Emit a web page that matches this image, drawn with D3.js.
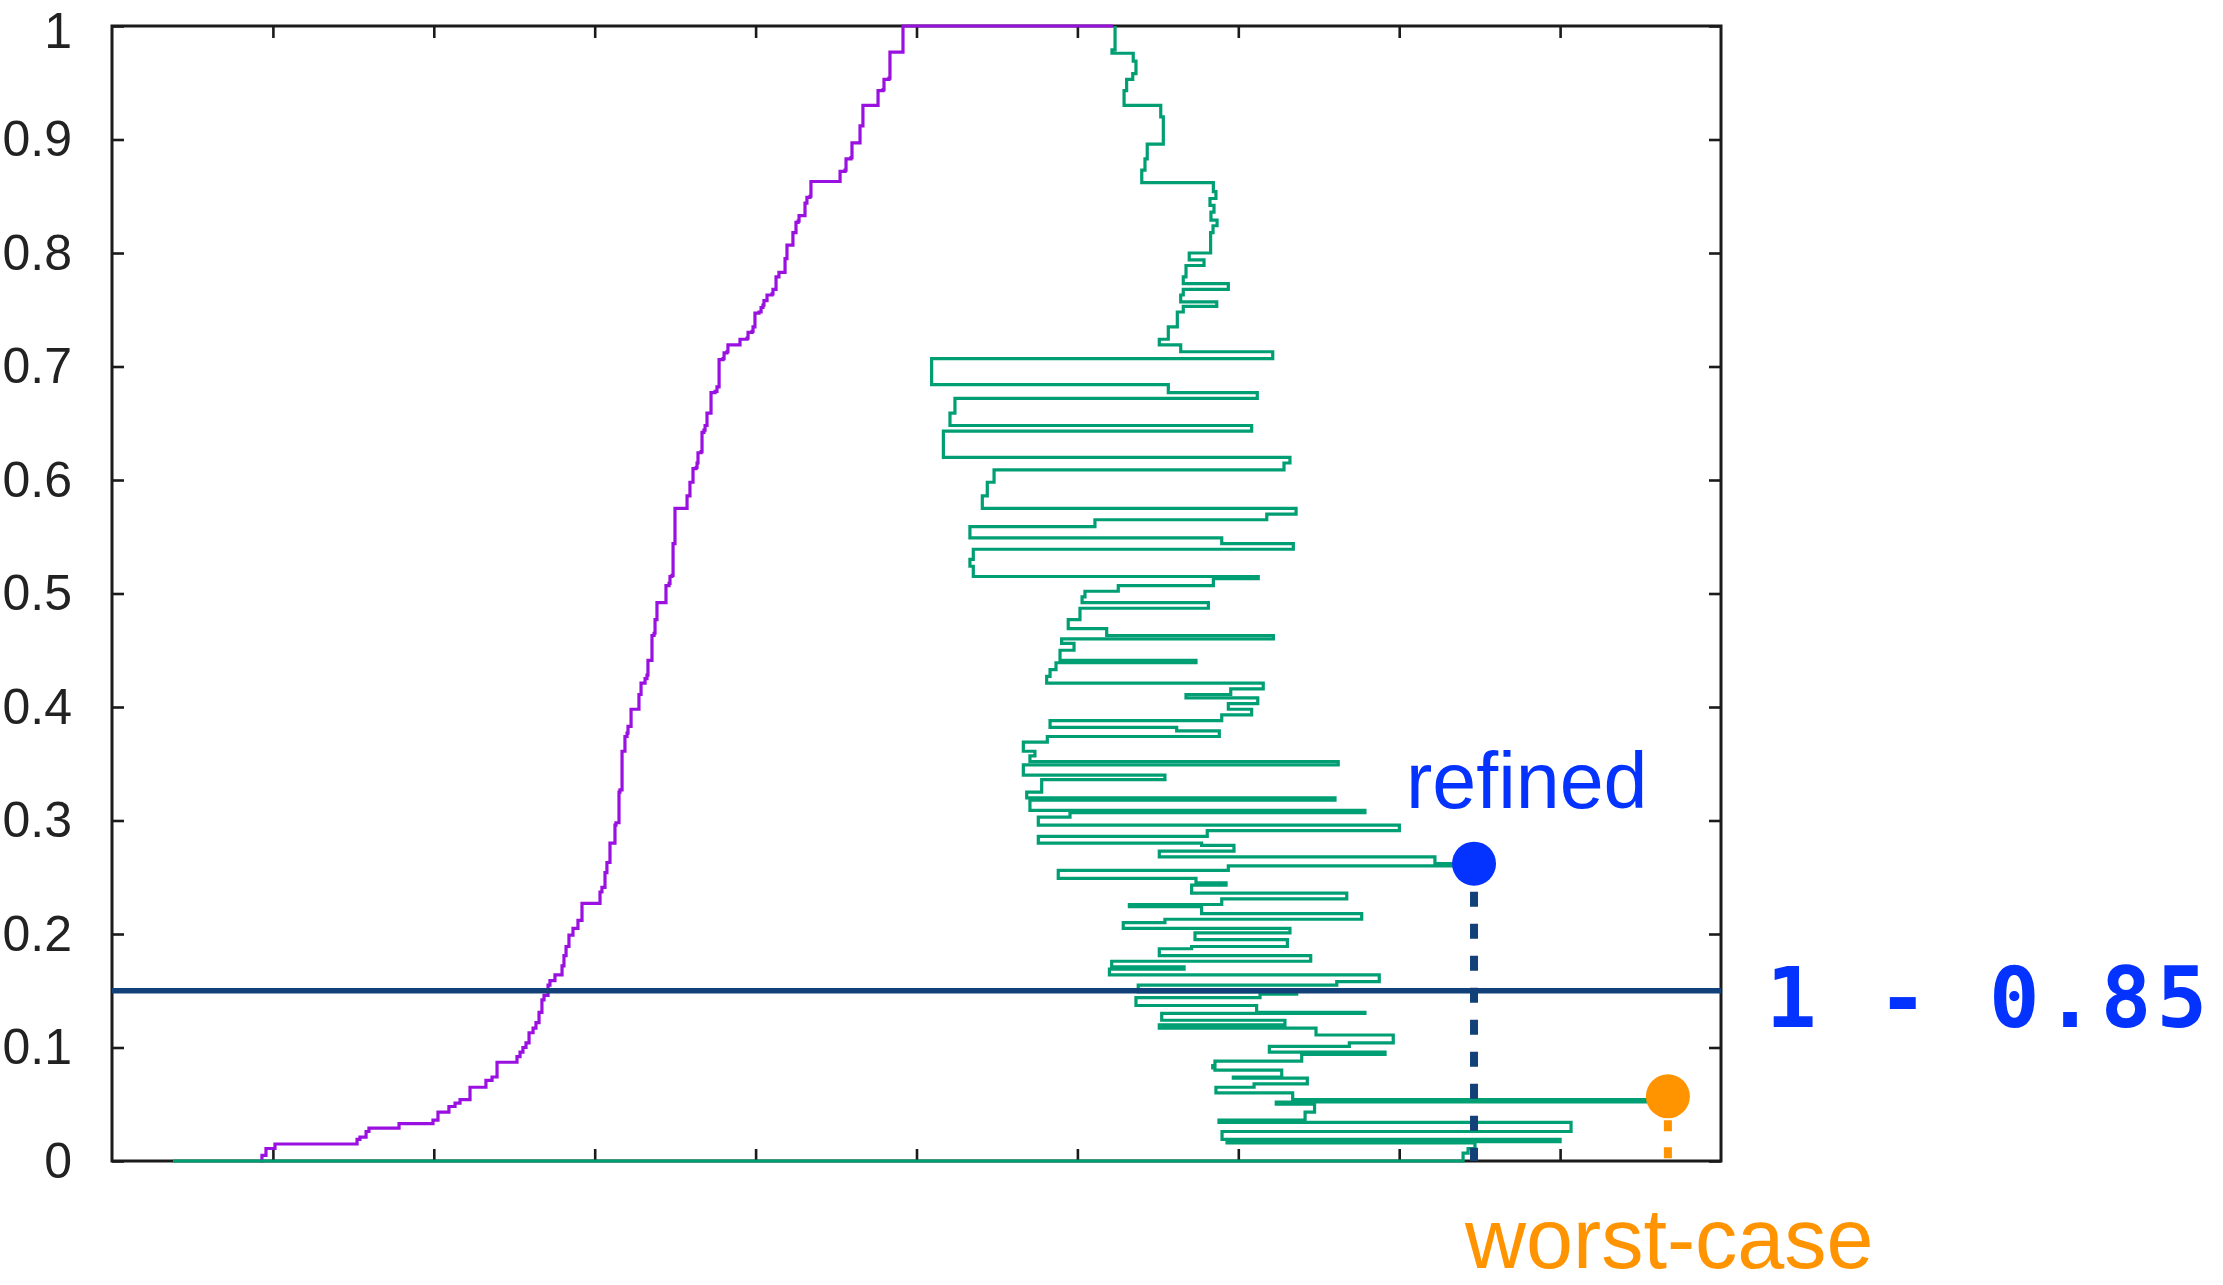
<!DOCTYPE html>
<html>
<head>
<meta charset="utf-8">
<script src="https://cdn.jsdelivr.net/npm/d3@7"></script>
<style>
  html, body { margin: 0; padding: 0; background: #ffffff; }
  svg { display: block; }
</style>
</head>
<body>
<svg id="chart" width="2223" height="1285"></svg>
<script>
// ---- data ----
const yTickValues = [0, 0.1, 0.2, 0.3, 0.4, 0.5, 0.6, 0.7, 0.8, 0.9, 1];
const yTickLabels = ["0", "0.1", "0.2", "0.3", "0.4", "0.5", "0.6", "0.7", "0.8", "0.9", "1"];
const xTickValues = [10, 20, 30, 40, 50, 60, 70, 80, 90];

// cumulative distribution (step after each point)
const purpleX = [9.20, 9.32, 9.57, 10.13, 15.23, 15.41, 15.79, 15.97, 17.84, 19.95,
  20.26, 20.94, 21.32, 21.63, 22.25, 23.24, 23.62, 23.93, 25.17, 25.36,
  25.54, 25.73, 25.92, 26.17, 26.35, 26.54, 26.72, 26.85, 27.10, 27.22,
  27.53, 27.97, 28.09, 28.22, 28.40, 28.65, 28.96, 29.21, 30.33, 30.45,
  30.64, 30.76, 30.95, 31.26, 31.32, 31.51, 31.57, 31.70, 31.88, 32.01,
  32.07, 32.26, 32.75, 32.88, 33.13, 33.25, 33.31, 33.56, 33.69, 33.75,
  33.87, 34.43, 34.62, 34.68, 34.80, 34.87, 34.99, 35.74, 35.92, 36.11,
  36.30, 36.36, 36.42, 36.61, 36.67, 36.79, 36.86, 36.98, 37.23, 37.48,
  37.60, 37.73, 37.97, 38.04, 38.22, 38.28, 39.03, 39.47, 39.53, 39.78,
  39.84, 39.96, 40.21, 40.34, 40.46, 40.52, 40.71, 41.02, 41.08, 41.27,
  41.45, 41.83, 41.95, 42.32, 42.51, 42.64, 42.70, 43.07, 43.19, 43.38,
  43.44, 45.25, 45.56, 45.62, 45.93, 45.99, 46.49, 46.67, 47.61, 47.92,
  47.98, 48.29, 48.35, 49.16, 62.21];
const purpleY = [0, 0.005, 0.011, 0.015, 0.019, 0.021, 0.026, 0.029, 0.033, 0.036,
  0.043, 0.048, 0.051, 0.054, 0.065, 0.071, 0.074, 0.087, 0.092, 0.096,
  0.100, 0.104, 0.113, 0.117, 0.122, 0.131, 0.142, 0.146, 0.155, 0.159,
  0.164, 0.172, 0.181, 0.189, 0.199, 0.205, 0.212, 0.227, 0.237, 0.241,
  0.254, 0.263, 0.280, 0.296, 0.298, 0.325, 0.327, 0.361, 0.374, 0.377,
  0.383, 0.398, 0.411, 0.421, 0.425, 0.428, 0.441, 0.463, 0.465, 0.477,
  0.492, 0.507, 0.509, 0.515, 0.516, 0.544, 0.575, 0.586, 0.598, 0.610,
  0.611, 0.615, 0.624, 0.625, 0.642, 0.644, 0.648, 0.659, 0.677, 0.678,
  0.682, 0.706, 0.707, 0.712, 0.713, 0.719, 0.724, 0.725, 0.730, 0.731,
  0.735, 0.747, 0.748, 0.752, 0.754, 0.758, 0.763, 0.764, 0.768, 0.779,
  0.783, 0.795, 0.807, 0.818, 0.827, 0.828, 0.833, 0.844, 0.849, 0.850,
  0.863, 0.872, 0.873, 0.883, 0.884, 0.897, 0.912, 0.930, 0.943, 0.944,
  0.953, 0.954, 0.977, 1.000, 1.000];

// refined bound trace (step after each point, top to bottom)
const greenX = [62.34, 62.34, 62.15, 63.47, 63.64, 63.44, 63.06, 62.90, 65.18, 65.34,
  64.34, 64.20, 64.00, 68.45, 68.61, 68.24, 68.49, 68.30, 68.68, 68.43,
  68.28, 66.95, 67.87, 66.75, 66.58, 69.38, 66.58, 66.42, 68.66, 66.58,
  66.21, 65.65, 65.09, 66.42, 72.14, 50.94, 65.65, 71.18, 52.39, 52.08,
  70.83, 51.67, 73.21, 72.84, 54.82, 54.40, 54.09, 73.59, 71.77, 61.09,
  53.32, 68.97, 73.42, 53.53, 53.32, 53.53, 71.24, 68.45, 62.54, 60.47,
  60.29, 68.14, 60.16, 59.43, 61.82, 72.18, 59.02, 59.79, 58.92, 67.37,
  58.67, 58.30, 58.09, 71.55, 69.53, 66.75, 71.21, 69.38, 70.83, 68.97,
  58.30, 66.17, 68.82, 58.13, 56.64, 57.36, 57.05, 76.21, 56.64, 65.44,
  57.78, 56.85, 76.01, 57.05, 77.87, 59.54, 57.57, 80.01, 68.07, 57.57,
  67.72, 69.73, 65.09, 82.22, 83.90, 69.38, 58.81, 67.37, 69.24, 67.10,
  76.74, 68.97, 63.23, 67.72, 77.67, 65.44, 62.85, 73.21, 67.31, 73.05,
  67.10, 65.09, 74.50, 62.13, 66.63, 61.99, 78.76, 76.12, 63.78, 73.63,
  71.35, 63.64, 71.14, 77.87, 65.24, 72.90, 65.09, 74.83, 79.63, 76.90,
  71.93, 79.12, 73.94, 68.55, 68.41, 68.55, 72.70, 69.69, 74.29, 70.98,
  68.61, 73.38, 95.59, 72.36, 74.74, 74.15, 68.80, 90.68, 68.99, 90.00,
  69.30, 84.71, 84.28, 83.97, 3.79];
const greenY = [1.000, 0.979, 0.976, 0.969, 0.958, 0.953, 0.943, 0.930, 0.920, 0.896,
  0.883, 0.873, 0.862, 0.854, 0.848, 0.842, 0.836, 0.829, 0.824, 0.818,
  0.800, 0.794, 0.789, 0.779, 0.773, 0.768, 0.763, 0.757, 0.753, 0.748,
  0.735, 0.724, 0.719, 0.713, 0.707, 0.684, 0.677, 0.672, 0.659, 0.648,
  0.643, 0.620, 0.615, 0.609, 0.598, 0.586, 0.575, 0.570, 0.565, 0.559,
  0.549, 0.544, 0.539, 0.530, 0.524, 0.515, 0.513, 0.507, 0.502, 0.497,
  0.492, 0.487, 0.477, 0.469, 0.463, 0.460, 0.456, 0.450, 0.441, 0.439,
  0.433, 0.427, 0.421, 0.416, 0.411, 0.408, 0.403, 0.398, 0.393, 0.388,
  0.382, 0.379, 0.374, 0.369, 0.361, 0.357, 0.352, 0.349, 0.340, 0.336,
  0.325, 0.320, 0.318, 0.309, 0.307, 0.303, 0.296, 0.291, 0.286, 0.280,
  0.278, 0.273, 0.268, 0.262, 0.260, 0.256, 0.249, 0.245, 0.243, 0.236,
  0.231, 0.226, 0.224, 0.218, 0.213, 0.210, 0.205, 0.201, 0.195, 0.189,
  0.187, 0.181, 0.176, 0.171, 0.169, 0.164, 0.158, 0.155, 0.149, 0.147,
  0.144, 0.137, 0.131, 0.130, 0.124, 0.120, 0.117, 0.111, 0.104, 0.101,
  0.096, 0.094, 0.088, 0.084, 0.082, 0.080, 0.074, 0.073, 0.068, 0.065,
  0.060, 0.054, 0.052, 0.050, 0.043, 0.036, 0.034, 0.026, 0.019, 0.017,
  0.016, 0.011, 0.007, 0.000, 0.000];

const threshold = 1 - 0.85;
const thresholdLabel = "1 - 0.85";
const refinedPoint = { x: 84.65, y: 0.262, label: "refined" };
const worstPoint = { x: 96.7, y: 0.057, label: "worst-case" };

// ---- layout ----
const x = d3.scaleLinear().domain([0, 100]).range([112, 1721]);
const y = d3.scaleLinear().domain([0, 1]).range([1161, 26]);
const svg = d3.select("#chart");
const ink = "#1b1b1b";
const navy = "#124078";
const blue = "#0433ff";
const orange = "#ff9300";

// frame
svg.append("rect")
  .attr("x", x(0)).attr("y", y(1))
  .attr("width", x(100) - x(0)).attr("height", y(0) - y(1))
  .attr("fill", "none").attr("stroke", ink).attr("stroke-width", 3);

function styleAxis(g) {
  g.select(".domain").remove();
  g.selectAll(".tick line").attr("stroke", ink).attr("stroke-width", 2.6);
}

// axes with inward ticks on all four sides
svg.append("g")
  .attr("transform", `translate(${x(0)},0)`)
  .call(d3.axisLeft(y).tickValues(yTickValues)
    .tickFormat((d, i) => yTickLabels[i]).tickSize(-12).tickPadding(40))
  .call(styleAxis)
  .attr("font-family", "'Liberation Sans', Arial, Helvetica, sans-serif")
  .attr("font-size", 50)
  .call(g => g.selectAll("text").attr("fill", "#222"))
  // keep the top label inside the page
  .call(g => g.selectAll(".tick text").filter(d => d === 1).attr("dy", "0.42em"));

svg.append("g")
  .attr("transform", `translate(${x(100)},0)`)
  .call(d3.axisRight(y).tickValues(yTickValues).tickFormat("").tickSize(-12))
  .call(styleAxis);

svg.append("g")
  .attr("transform", `translate(0,${y(0)})`)
  .call(d3.axisBottom(x).tickValues(xTickValues).tickFormat("").tickSize(-12))
  .call(styleAxis);

svg.append("g")
  .attr("transform", `translate(0,${y(1)})`)
  .call(d3.axisTop(x).tickValues(xTickValues).tickFormat("").tickSize(-12))
  .call(styleAxis);

// step curves
const stepLine = d3.line()
  .x(d => x(d[0])).y(d => y(d[1]))
  .curve(d3.curveStepAfter);

svg.append("path")
  .datum(d3.zip(purpleX, purpleY))
  .attr("d", stepLine)
  .attr("fill", "none").attr("stroke", "#9a10e0").attr("stroke-width", 3.2);

svg.append("path")
  .datum(d3.zip(greenX, greenY))
  .attr("d", stepLine)
  .attr("fill", "none").attr("stroke", "#009e73").attr("stroke-width", 3.2);

// threshold line
svg.append("line")
  .attr("x1", x(0)).attr("x2", x(100))
  .attr("y1", y(threshold)).attr("y2", y(threshold))
  .attr("stroke", navy).attr("stroke-width", 5.5);

// refined marker
svg.append("line")
  .attr("x1", x(refinedPoint.x)).attr("x2", x(refinedPoint.x))
  .attr("y1", y(refinedPoint.y) + 28).attr("y2", y(0))
  .attr("stroke", navy).attr("stroke-width", 8)
  .attr("stroke-dasharray", "15,17");
svg.append("circle")
  .attr("cx", x(refinedPoint.x)).attr("cy", y(refinedPoint.y)).attr("r", 22)
  .attr("fill", blue);

// worst-case marker
svg.append("line")
  .attr("x1", x(worstPoint.x)).attr("x2", x(worstPoint.x))
  .attr("y1", y(worstPoint.y) + 24).attr("y2", y(0))
  .attr("stroke", orange).attr("stroke-width", 8)
  .attr("stroke-dasharray", "11,16");
svg.append("circle")
  .attr("cx", x(worstPoint.x)).attr("cy", y(worstPoint.y)).attr("r", 22)
  .attr("fill", orange);

// annotations
const sans = "'Helvetica Neue', 'Liberation Sans', Arial, sans-serif";
svg.append("text")
  .attr("x", 1406).attr("y", 808)
  .attr("font-family", sans).attr("font-weight", 300).attr("font-size", 79)
  .attr("fill", blue)
  .text(refinedPoint.label);

svg.append("text")
  .attr("x", 1465).attr("y", 1268)
  .attr("font-family", sans).attr("font-weight", 300).attr("font-size", 84.5)
  .attr("fill", orange)
  .text(worstPoint.label);

svg.append("text")
  .attr("x", 1766).attr("y", y(threshold) + 36)
  .attr("font-family", "'DejaVu Sans Mono', monospace").attr("font-weight", "bold")
  .attr("font-size", 84).attr("letter-spacing", 5.2)
  .attr("fill", blue)
  .attr("xml:space", "preserve")
  .text(thresholdLabel);
</script>
</body>
</html>
